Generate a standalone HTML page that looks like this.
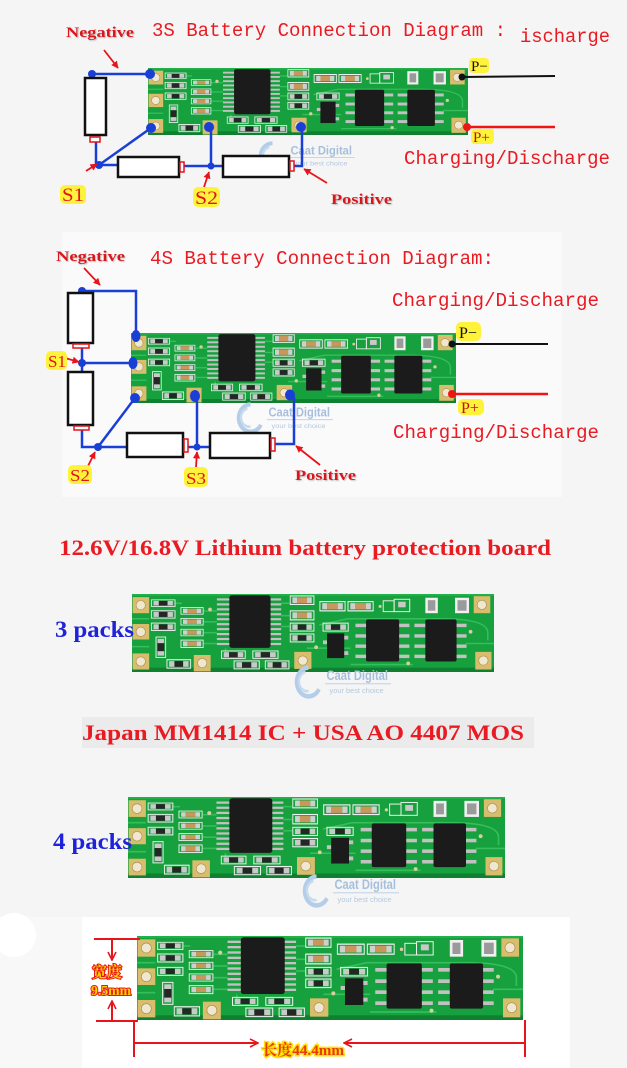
<!DOCTYPE html>
<html><head><meta charset="utf-8">
<style>
html,body{margin:0;padding:0;background:#f5f5f5;}
svg{display:block;}
</style></head><body>
<svg width="627" height="1068" viewBox="0 0 627 1068" xmlns="http://www.w3.org/2000/svg" xmlns:xlink="http://www.w3.org/1999/xlink">
<defs>
<marker id="ar" viewBox="0 0 10 10" refX="9" refY="5" markerWidth="4" markerHeight="4" orient="auto"><path d="M0,0 L10,5 L0,10 z" fill="#e8141c"/></marker>
<marker id="dar" viewBox="0 0 10 10" refX="9" refY="5" markerWidth="5" markerHeight="5" orient="auto"><path d="M1,1 L9,5 L1,9" fill="none" stroke="#e8141c" stroke-width="1.6"/></marker>
<filter id="sh" x="-10%" y="-20%" width="130%" height="150%"><feDropShadow dx="1" dy="1" stdDeviation="0.6" flood-color="#999" flood-opacity="0.6"/></filter>

<symbol id="res" viewBox="0 0 80 28" preserveAspectRatio="none">
<rect x="2" y="2" width="76" height="24" fill="none" stroke="#eef2ee" stroke-width="3"/>
<rect x="9" y="6" width="17" height="16" fill="#c9c9c9"/>
<rect x="26" y="6" width="28" height="16" fill="#262626"/>
<rect x="54" y="6" width="17" height="16" fill="#c9c9c9"/>
</symbol>
<symbol id="cap" viewBox="0 0 80 28" preserveAspectRatio="none">
<rect x="2" y="2" width="76" height="24" fill="none" stroke="#eef2ee" stroke-width="3"/>
<rect x="9" y="6" width="15" height="16" fill="#cfcfcf"/>
<rect x="24" y="6" width="32" height="16" fill="#c9975c"/>
<rect x="56" y="6" width="15" height="16" fill="#cfcfcf"/>
</symbol>
<symbol id="resv" viewBox="0 0 35 70" preserveAspectRatio="none">
<rect x="2" y="2" width="31" height="66" fill="none" stroke="#eef2ee" stroke-width="3"/>
<rect x="7" y="8" width="21" height="14" fill="#c9c9c9"/>
<rect x="7" y="22" width="21" height="26" fill="#262626"/>
<rect x="7" y="48" width="21" height="14" fill="#c9c9c9"/>
</symbol>

<symbol id="pcb" viewBox="0 0 1160 252" preserveAspectRatio="none">
<rect x="0" y="0" width="1160" height="252" fill="#17a03e"/>
<rect x="0" y="0" width="1160" height="6" fill="#22b04a"/>
<rect x="0" y="238" width="1160" height="14" fill="#0e8030"/>
<g fill="none" stroke="#35be5b" stroke-width="5">
<path d="M230,55 H272"/><path d="M230,90 H272"/><path d="M230,125 H272"/><path d="M230,160 H272"/>
<path d="M140,30 H160"/><path d="M478,30 H505"/><path d="M478,70 H505"/><path d="M478,105 H505"/>
<path d="M600,100 L690,80 H990 Q1140,80 1140,125 V150"/>
<path d="M700,228 H900"/><path d="M1070,160 H1160"/>
<path d="M0,80 H55"/><path d="M0,170 H55"/>
<path d="M560,175 H700"/><path d="M300,175 V200"/>
</g>
<g>
<rect x="2" y="10" width="53" height="52" fill="#d8bd6c"/><circle cx="28" cy="36" r="15" fill="#efe7cf" stroke="#a88e4e" stroke-width="2"/>
<rect x="2" y="97" width="53" height="50" fill="#d8bd6c"/><circle cx="28" cy="122" r="15" fill="#efe7cf" stroke="#a88e4e" stroke-width="2"/>
<rect x="2" y="192" width="53" height="52" fill="#d8bd6c"/><circle cx="28" cy="218" r="15" fill="#efe7cf" stroke="#a88e4e" stroke-width="2"/>
<rect x="198" y="197" width="54" height="53" fill="#d8bd6c"/><circle cx="225" cy="223" r="15" fill="#efe7cf" stroke="#a88e4e" stroke-width="2"/>
<rect x="520" y="187" width="55" height="55" fill="#d8bd6c"/><circle cx="547" cy="215" r="15" fill="#efe7cf" stroke="#a88e4e" stroke-width="2"/>
<rect x="1095" y="7" width="53" height="55" fill="#d8bd6c"/><circle cx="1121" cy="35" r="15" fill="#efe7cf" stroke="#a88e4e" stroke-width="2"/>
<rect x="1100" y="187" width="52" height="57" fill="#d8bd6c"/><circle cx="1126" cy="215" r="15" fill="#efe7cf" stroke="#a88e4e" stroke-width="2"/>
<rect x="940" y="12" width="40" height="50" fill="#f0f0f0"/><rect x="948" y="20" width="24" height="34" fill="#9a9a9a"/>
<rect x="1035" y="12" width="45" height="50" fill="#f0f0f0"/><rect x="1043" y="20" width="29" height="34" fill="#9a9a9a"/>
</g>
<g fill="#c2c2c2">
<rect x="272" y="14" width="44" height="7"/><rect x="272" y="30" width="44" height="7"/><rect x="272" y="46" width="44" height="7"/><rect x="272" y="62" width="44" height="7"/><rect x="272" y="78" width="44" height="7"/><rect x="272" y="94" width="44" height="7"/><rect x="272" y="110" width="44" height="7"/><rect x="272" y="126" width="44" height="7"/><rect x="272" y="142" width="44" height="7"/><rect x="272" y="158" width="44" height="7"/>
<rect x="440" y="14" width="38" height="7"/><rect x="440" y="30" width="38" height="7"/><rect x="440" y="46" width="38" height="7"/><rect x="440" y="62" width="38" height="7"/><rect x="440" y="78" width="38" height="7"/><rect x="440" y="94" width="38" height="7"/><rect x="440" y="110" width="38" height="7"/><rect x="440" y="126" width="38" height="7"/><rect x="440" y="142" width="38" height="7"/><rect x="440" y="158" width="38" height="7"/>
</g>
<rect x="312" y="4" width="132" height="170" rx="8" fill="#1b1b1b"/>
<g fill="#c2c2c2">
<rect x="716" y="96" width="36" height="11"/><rect x="716" y="130" width="36" height="11"/><rect x="716" y="163" width="36" height="11"/><rect x="716" y="196" width="36" height="11"/>
<rect x="853" y="96" width="36" height="11"/><rect x="853" y="130" width="36" height="11"/><rect x="853" y="163" width="36" height="11"/><rect x="853" y="196" width="36" height="11"/>
<rect x="905" y="96" width="36" height="11"/><rect x="905" y="130" width="36" height="11"/><rect x="905" y="163" width="36" height="11"/><rect x="905" y="196" width="36" height="11"/>
<rect x="1038" y="96" width="34" height="11"/><rect x="1038" y="130" width="34" height="11"/><rect x="1038" y="163" width="34" height="11"/><rect x="1038" y="196" width="34" height="11"/>
</g>
<rect x="750" y="82" width="106" height="136" rx="6" fill="#1b1b1b"/>
<rect x="940" y="82" width="100" height="136" rx="6" fill="#1b1b1b"/>
<rect x="612" y="150" width="16" height="12" fill="#c2c2c2"/><rect x="677" y="135" width="16" height="12" fill="#c2c2c2"/><rect x="677" y="185" width="16" height="12" fill="#c2c2c2"/>
<rect x="625" y="127" width="55" height="80" fill="#1b1b1b"/>
<use xlink:href="#res" x="60" y="17" width="80" height="25"/>
<use xlink:href="#res" x="60" y="52" width="80" height="28"/>
<use xlink:href="#res" x="60" y="92" width="80" height="28"/>
<use xlink:href="#cap" x="155" y="42" width="75" height="25"/>
<use xlink:href="#cap" x="155" y="77" width="75" height="25"/>
<use xlink:href="#cap" x="155" y="112" width="75" height="25"/>
<use xlink:href="#cap" x="155" y="147" width="75" height="28"/>
<use xlink:href="#resv" x="75" y="137" width="35" height="70"/>
<use xlink:href="#res" x="110" y="210" width="80" height="32"/>
<use xlink:href="#res" x="285" y="182" width="80" height="28"/>
<use xlink:href="#res" x="385" y="182" width="85" height="28"/>
<use xlink:href="#res" x="325" y="214" width="85" height="30"/>
<use xlink:href="#res" x="425" y="214" width="80" height="30"/>
<use xlink:href="#cap" x="505" y="4" width="80" height="32"/>
<use xlink:href="#cap" x="505" y="52" width="80" height="34"/>
<use xlink:href="#res" x="505" y="92" width="80" height="30"/>
<use xlink:href="#res" x="505" y="127" width="80" height="30"/>
<use xlink:href="#cap" x="600" y="22" width="85" height="35"/>
<use xlink:href="#cap" x="690" y="22" width="85" height="35"/>
<use xlink:href="#res" x="610" y="92" width="85" height="30"/>
<rect x="805" y="22" width="35" height="35" fill="none" stroke="#eef2ee" stroke-width="3"/>
<rect x="840" y="17" width="50" height="40" fill="none" stroke="#eef2ee" stroke-width="3"/><rect x="853" y="25" width="24" height="18" fill="#c9c9c9"/>
<g fill="#d8cfa0"><circle cx="250" cy="50" r="6"/><circle cx="590" cy="172" r="6"/><circle cx="885" cy="224" r="6"/><circle cx="1085" cy="122" r="6"/><circle cx="795" cy="40" r="5"/></g>
</symbol>

<symbol id="wm" viewBox="0 0 180 40" preserveAspectRatio="none">
<path d="M22,4 A16,16 0 1 0 36,28" fill="none" stroke="#b4cde8" stroke-width="5"/>
<path d="M18,9 A10,10 0 0 0 22,30" fill="none" stroke="#c6dbef" stroke-width="3"/>
<text x="46" y="18" font-family="Liberation Sans, sans-serif" font-weight="bold" font-size="15" fill="#a6bfdc" textLength="82" lengthAdjust="spacingAndGlyphs">Caat Digital</text>
<line x1="44" y1="22" x2="132" y2="22" stroke="#b8cde4" stroke-width="1"/>
<text x="50" y="32" font-family="Liberation Sans, sans-serif" font-size="8" fill="#b4c8de" textLength="72" lengthAdjust="spacingAndGlyphs">your best choice</text>
</symbol>
</defs>

<rect x="0" y="0" width="627" height="1068" fill="#f5f5f5"/>
<rect x="62" y="232" width="500" height="265" fill="#fafafa"/>
<rect x="82" y="917" width="488" height="151" fill="#ffffff"/>
<rect x="0" y="917" width="82" height="151" fill="#f8f8f8"/>
<circle cx="14" cy="935" r="22" fill="#ffffff"/>

<!-- ============ SECTION 1 : 3S ============ -->
<text x="66" y="37" font-family="Liberation Serif, serif" font-weight="bold" font-size="15" fill="#d8141c" filter="url(#sh)" textLength="68" lengthAdjust="spacingAndGlyphs">Negative</text>
<text x="152" y="36" font-family="Liberation Mono, monospace" font-size="19" fill="#ea1a22" textLength="354" lengthAdjust="spacingAndGlyphs">3S Battery Connection Diagram :</text>
<text x="520" y="42" font-family="Liberation Mono, monospace" font-size="19" fill="#ea1a22" textLength="90" lengthAdjust="spacingAndGlyphs">ischarge</text>

<use xlink:href="#pcb" x="148" y="68" width="320" height="67"/>
<use xlink:href="#wm" x="256" y="140" width="135" height="32"/>

<g fill="none" stroke="#1a3fd6" stroke-width="2.5">
<path d="M92,74 H150"/>
<path d="M96,142 V165 H117"/>
<path d="M151,128 L99,165"/>
<path d="M184,166 H222"/>
<path d="M211,166 V127"/>
<path d="M294,166 H302 V127"/>
</g>
<g fill="#1a3fd6">
<circle cx="92" cy="74" r="4"/><circle cx="150" cy="74" r="5"/><circle cx="151" cy="128" r="5"/><circle cx="99" cy="165" r="4"/><circle cx="211" cy="166" r="3.5"/><circle cx="209" cy="127" r="5"/><circle cx="301" cy="127" r="5"/>
</g>
<g fill="#fff" stroke="#111" stroke-width="2.5">
<rect x="85" y="78" width="21" height="57"/>
<rect x="118" y="157" width="61" height="20"/>
<rect x="223" y="156" width="66" height="21"/>
</g>
<g fill="#fff" stroke="#e0141c" stroke-width="1.5">
<rect x="90" y="137" width="10" height="5"/>
<rect x="180" y="162" width="4" height="10"/>
<rect x="290" y="161" width="4" height="10"/>
</g>
<line x1="462" y1="77" x2="555" y2="76" stroke="#111" stroke-width="2"/>
<circle cx="462" cy="77" r="3.5" fill="#111"/>
<line x1="467" y1="127" x2="555" y2="127" stroke="#f01414" stroke-width="2.5"/>
<circle cx="467" cy="127" r="4" fill="#f01414"/>
<rect x="469" y="58" width="20" height="15" rx="4" fill="#fff23a"/>
<text x="471" y="71" font-family="Liberation Serif, serif" font-size="15" fill="#111">P−</text>
<rect x="471" y="129" width="23" height="15" rx="4" fill="#fff23a"/>
<text x="473" y="142" font-family="Liberation Serif, serif" font-size="15" fill="#c01010">P+</text>
<text x="404" y="164" font-family="Liberation Mono, monospace" font-size="19" fill="#ea1a22" textLength="206" lengthAdjust="spacingAndGlyphs">Charging/Discharge</text>
<g stroke="#e8141c" stroke-width="1.8" fill="none" marker-end="url(#ar)">
<path d="M104,50 L118,68"/>
<path d="M86,171 L97,164"/>
<path d="M204,187 L209,172"/>
<path d="M327,183 L304,169"/>
</g>
<rect x="60" y="185" width="26" height="19" rx="5" fill="#fff23a"/>
<text x="62" y="201" font-family="Liberation Serif, serif" font-size="19" fill="#e0141c" textLength="22" lengthAdjust="spacingAndGlyphs">S1</text>
<rect x="193" y="187" width="27" height="20" rx="5" fill="#fff23a"/>
<text x="195" y="204" font-family="Liberation Serif, serif" font-size="19" fill="#e0141c" textLength="23" lengthAdjust="spacingAndGlyphs">S2</text>
<text x="331" y="204" font-family="Liberation Serif, serif" font-weight="bold" font-size="15" fill="#d8141c" filter="url(#sh)" textLength="61" lengthAdjust="spacingAndGlyphs">Positive</text>

<!-- ============ SECTION 2 : 4S ============ -->
<text x="56" y="261" font-family="Liberation Serif, serif" font-weight="bold" font-size="15" fill="#d8141c" filter="url(#sh)" textLength="69" lengthAdjust="spacingAndGlyphs">Negative</text>
<text x="150" y="264" font-family="Liberation Mono, monospace" font-size="19" fill="#ea1a22" textLength="344" lengthAdjust="spacingAndGlyphs">4S Battery Connection Diagram:</text>
<text x="392" y="306" font-family="Liberation Mono, monospace" font-size="19" fill="#ea1a22" textLength="207" lengthAdjust="spacingAndGlyphs">Charging/Discharge</text>

<use xlink:href="#pcb" x="131" y="333" width="325" height="70"/>
<use xlink:href="#wm" x="234" y="401" width="135" height="34"/>

<g fill="none" stroke="#1a3fd6" stroke-width="2.5">
<path d="M82,291 H136 V338"/>
<path d="M82,348 V372"/>
<path d="M82,363 H133"/>
<path d="M82,430 V447 H127"/>
<path d="M135,398 L98,447"/>
<path d="M188,447 H210"/>
<path d="M197,447 V395"/>
<path d="M275,444 H294 V397"/>
</g>
<g fill="#1a3fd6">
<circle cx="82" cy="291" r="4"/><ellipse cx="136" cy="336" rx="4.5" ry="6"/><ellipse cx="133" cy="363" rx="4.5" ry="6"/><circle cx="82" cy="363" r="4"/><circle cx="135" cy="398" r="5"/><circle cx="98" cy="447" r="4"/><circle cx="197" cy="447" r="3.5"/><ellipse cx="195" cy="396" rx="5" ry="6"/><ellipse cx="290" cy="395" rx="5" ry="5.5"/>
</g>
<g fill="#fff" stroke="#111" stroke-width="2.5">
<rect x="68" y="293" width="25" height="50"/>
<rect x="68" y="372" width="25" height="53"/>
<rect x="127" y="433" width="56" height="24"/>
<rect x="210" y="433" width="60" height="25"/>
</g>
<g fill="#fff" stroke="#e0141c" stroke-width="1.5">
<rect x="73" y="344" width="16" height="4"/>
<rect x="74" y="426" width="15" height="4"/>
<rect x="184" y="439" width="4" height="13"/>
<rect x="271" y="438" width="4" height="13"/>
</g>
<line x1="452" y1="344" x2="548" y2="344" stroke="#111" stroke-width="2"/>
<circle cx="452" cy="344" r="3.5" fill="#111"/>
<line x1="452" y1="394" x2="548" y2="394" stroke="#f01414" stroke-width="2.5"/>
<circle cx="452" cy="394" r="4" fill="#f01414"/>
<rect x="456" y="322" width="25" height="19" rx="5" fill="#fff23a"/>
<text x="459" y="338" font-family="Liberation Serif, serif" font-size="16" fill="#111">P−</text>
<rect x="458" y="399" width="26" height="16" rx="5" fill="#fff23a"/>
<text x="461" y="413" font-family="Liberation Serif, serif" font-size="16" fill="#c01010">P+</text>
<text x="393" y="438" font-family="Liberation Mono, monospace" font-size="19" fill="#ea1a22" textLength="206" lengthAdjust="spacingAndGlyphs">Charging/Discharge</text>
<g stroke="#e8141c" stroke-width="1.8" fill="none" marker-end="url(#ar)">
<path d="M84,268 L100,285"/>
<path d="M65,358 L79,362"/>
<path d="M87,468 L95,452"/>
<path d="M196,467 L197,452"/>
<path d="M320,465 L296,446"/>
</g>
<rect x="46" y="351" width="21" height="19" rx="5" fill="#fff23a"/>
<text x="48" y="367" font-family="Liberation Serif, serif" font-size="17" fill="#e0141c" textLength="18" lengthAdjust="spacingAndGlyphs">S1</text>
<rect x="68" y="465" width="24" height="19" rx="5" fill="#fff23a"/>
<text x="70" y="481" font-family="Liberation Serif, serif" font-size="17" fill="#e0141c" textLength="20" lengthAdjust="spacingAndGlyphs">S2</text>
<rect x="184" y="467" width="24" height="20" rx="5" fill="#fff23a"/>
<text x="186" y="484" font-family="Liberation Serif, serif" font-size="17" fill="#e0141c" textLength="20" lengthAdjust="spacingAndGlyphs">S3</text>
<text x="295" y="480" font-family="Liberation Serif, serif" font-weight="bold" font-size="15" fill="#d8141c" filter="url(#sh)" textLength="61" lengthAdjust="spacingAndGlyphs">Positive</text>

<!-- ============ SECTION 3 ============ -->
<text x="59" y="555" font-family="Liberation Serif, serif" font-weight="bold" font-size="22" fill="#ea1a22" textLength="492" lengthAdjust="spacingAndGlyphs">12.6V/16.8V Lithium battery protection board</text>
<use xlink:href="#pcb" x="132" y="594" width="362" height="78"/>
<text x="55" y="637" font-family="Liberation Serif, serif" font-weight="bold" font-size="23" fill="#1e22d8" textLength="79" lengthAdjust="spacingAndGlyphs">3 packs</text>
<use xlink:href="#wm" x="292" y="664" width="135" height="36"/>

<!-- ============ SECTION 4 ============ -->
<rect x="82" y="717" width="452" height="31" fill="#ebebeb"/>
<text x="82" y="740" font-family="Liberation Serif, serif" font-weight="bold" font-size="22" fill="#ea1a22" textLength="442" lengthAdjust="spacingAndGlyphs">Japan MM1414 IC + USA AO 4407 MOS</text>
<use xlink:href="#pcb" x="128" y="797" width="377" height="81"/>
<text x="53" y="849" font-family="Liberation Serif, serif" font-weight="bold" font-size="23" fill="#1e22d8" textLength="79" lengthAdjust="spacingAndGlyphs">4 packs</text>
<use xlink:href="#wm" x="300" y="873" width="135" height="36"/>

<!-- ============ SECTION 5 ============ -->
<use xlink:href="#pcb" x="137" y="936" width="386" height="84"/>
<g stroke="#e8141c" stroke-width="2" fill="none">
<path d="M94,939 H140"/>
<path d="M96,1021 H138"/>
<path d="M112,939 V960" marker-end="url(#dar)"/>
<path d="M112,1021 V1001" marker-end="url(#dar)"/>
<path d="M134,1021 V1057"/>
<path d="M525,1020 V1057"/>
<path d="M134,1043 H258" marker-end="url(#dar)"/>
<path d="M525,1043 H344" marker-end="url(#dar)"/>
</g>
<g font-family="Liberation Serif, 'Noto Serif CJK SC', serif" font-weight="bold" fill="#ffd000" stroke="#e8141c" stroke-width="2" paint-order="stroke">
<text x="92" y="977" font-size="15" textLength="30" lengthAdjust="spacingAndGlyphs">宽度</text>
<text x="91" y="995" font-size="14" textLength="40" lengthAdjust="spacingAndGlyphs">9.5mm</text>
</g>
<text x="262" y="1055" font-family="Liberation Serif, 'Noto Serif CJK SC', serif" font-weight="bold" font-size="15" fill="#e83a10" stroke="#ffe000" stroke-width="3" paint-order="stroke" textLength="82" lengthAdjust="spacingAndGlyphs">长度44.4mm</text>
</svg>
</body></html>
